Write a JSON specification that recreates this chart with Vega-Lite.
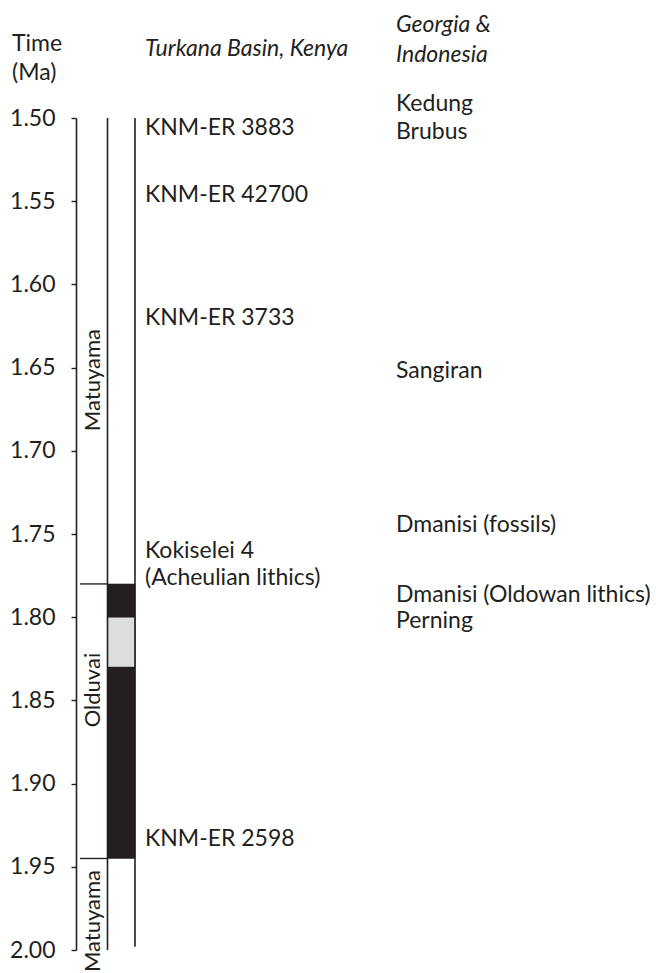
{
  "$schema": "https://vega.github.io/schema/vega-lite/v6.json",
  "autosize": {"type": "none"},
  "width": 580,
  "height": 832,
  "padding": {"left": 76, "top": 118, "right": 0, "bottom": 23},
  "background": "white",
  "config": {
    "view": {"stroke": null},
    "text": {"font": "Lato", "fontSize": 23, "color": "#231f20"},
    "axis": {"labelFont": "Lato", "labelFontSize": 23, "labelColor": "#231f20"}
  },
  "resolve": {"axis": {"y": "independent", "x": "independent"}},
  "layer": [
    {
      "data": {"values": [
        {"state": "normal", "t": 1.78, "t2": 1.945, "col": 4, "col2": 5},
        {"state": "uncertain", "t": 1.80, "t2": 1.83, "col": 4, "col2": 5}
      ]},
      "mark": {"type": "rect", "stroke": "#231f20", "strokeWidth": 0.5},
      "encoding": {
        "x": {"field": "col", "type": "quantitative", "axis": null,
              "scale": {"domain": [0, 1, 2, 3, 4, 5, 6, 7], "range": [-64, 0, 4, 24, 31.5, 59, 69, 320]}},
        "x2": {"field": "col2"},
        "y": {"field": "t", "type": "quantitative",
              "scale": {"domain": [1.5, 2.0], "reverse": true, "nice": false, "zero": false},
              "axis": {"title": null, "values": [1.5, 1.55, 1.6, 1.65, 1.7, 1.75, 1.8, 1.85, 1.9, 1.95, 2.0],
                       "format": ".2f", "grid": false, "domainColor": "#231f20", "domainWidth": 1.6,
                       "tickColor": "#231f20", "tickWidth": 1.4, "tickSize": 5, "labelPadding": 16,
                       "labelBaseline": "middle"}},
        "y2": {"field": "t2"},
        "color": {"field": "state", "type": "nominal", "legend": null,
                  "scale": {"domain": ["normal", "uncertain"], "range": ["#231f20", "#dcdddf"]}}
      }
    },
    {
      "data": {"values": [
        {"col": 4, "t": 1.5, "t2": 2.0},
        {"col": 5, "t": 1.5, "t2": 1.998}
      ]},
      "mark": {"type": "rule", "color": "#231f20", "strokeWidth": 1.6},
      "encoding": {
        "x": {"field": "col", "type": "quantitative", "axis": null},
        "y": {"field": "t", "type": "quantitative", "axis": null},
        "y2": {"field": "t2"}
      }
    },
    {
      "data": {"values": [
        {"boundary": "Matuyama/Olduvai", "t": 1.78, "col": 2, "col2": 4},
        {"boundary": "Olduvai/Matuyama", "t": 1.945, "col": 2, "col2": 4}
      ]},
      "mark": {"type": "rule", "color": "#231f20", "strokeWidth": 1.4},
      "encoding": {
        "x": {"field": "col", "type": "quantitative", "axis": null},
        "x2": {"field": "col2"},
        "y": {"field": "t", "type": "quantitative", "axis": null}
      }
    },
    {
      "data": {"values": [
        {"chron": "Matuyama", "t": 1.6575, "col": 3},
        {"chron": "Olduvai", "t": 1.8438, "col": 3},
        {"chron": "Matuyama", "t": 1.9826, "col": 3}
      ]},
      "mark": {"type": "text", "angle": 270, "align": "center", "baseline": "alphabetic", "fontSize": 22},
      "encoding": {
        "x": {"field": "col", "type": "quantitative", "axis": null},
        "y": {"field": "t", "type": "quantitative", "axis": null},
        "text": {"field": "chron"}
      }
    },
    {
      "data": {"values": [
        {"label": "KNM-ER 3883", "t": 1.5102, "col": 6},
        {"label": "KNM-ER 42700", "t": 1.5505, "col": 6},
        {"label": "KNM-ER 3733", "t": 1.6244, "col": 6},
        {"label": "Kokiselei 4", "t": 1.7644, "col": 6},
        {"label": "(Acheulian lithics)", "t": 1.7806, "col": 6},
        {"label": "KNM-ER 2598", "t": 1.9375, "col": 6},
        {"label": "Kedung", "t": 1.4958, "col": 7},
        {"label": "Brubus", "t": 1.5126, "col": 7},
        {"label": "Sangiran", "t": 1.6563, "col": 7},
        {"label": "Dmanisi (fossils)", "t": 1.7488, "col": 7},
        {"label": "Dmanisi (Oldowan lithics)", "t": 1.7909, "col": 7},
        {"label": "Perning", "t": 1.8065, "col": 7},
        {"label": "Time", "t": 1.4597, "col": 0},
        {"label": "(Ma)", "t": 1.4772, "col": 0}
      ]},
      "mark": {"type": "text", "align": "left", "baseline": "alphabetic"},
      "encoding": {
        "x": {"field": "col", "type": "quantitative", "axis": null},
        "y": {"field": "t", "type": "quantitative", "axis": null},
        "text": {"field": "label"}
      }
    },
    {
      "data": {"values": [
        {"label": "Turkana Basin, Kenya", "t": 1.4627, "col": 6},
        {"label": "Georgia &", "t": 1.4483, "col": 7},
        {"label": "Indonesia", "t": 1.4663, "col": 7}
      ]},
      "mark": {"type": "text", "align": "left", "baseline": "alphabetic", "fontStyle": "italic"},
      "encoding": {
        "x": {"field": "col", "type": "quantitative", "axis": null},
        "y": {"field": "t", "type": "quantitative", "axis": null},
        "text": {"field": "label"}
      }
    }
  ]
}
